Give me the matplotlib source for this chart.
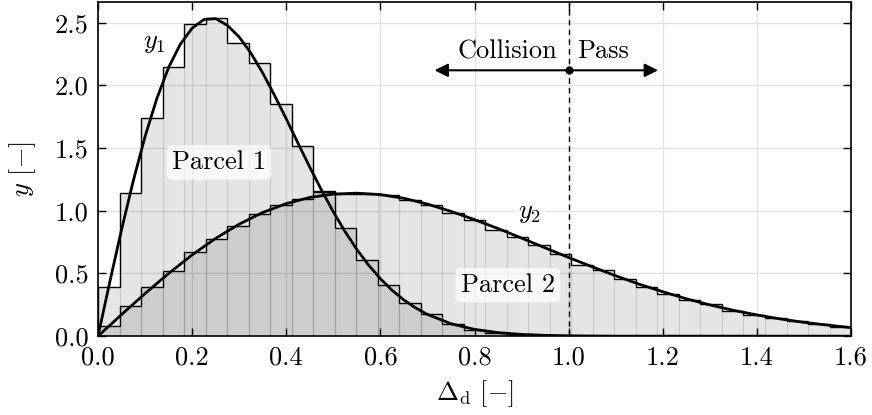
import numpy as np
import matplotlib
matplotlib.use("Agg")
import matplotlib.pyplot as plt

plt.rcParams['font.family'] = 'serif'
plt.rcParams['font.serif'] = ['cmr10', 'DejaVu Serif']
plt.rcParams['mathtext.fontset'] = 'cm'
plt.rcParams['axes.formatter.use_mathtext'] = True
plt.rcParams['font.size'] = 19

# histogram: 35 bins between 0 and 1.6
bin_edges = np.linspace(0, 1.6, 36)
hist1 = [0.39, 1.14, 1.74, 2.15, 2.49, 2.535, 2.335, 2.175, 1.85, 1.515,
         1.155, 0.865, 0.61, 0.405, 0.265, 0.18, 0.10, 0.048, 0.025, 0.012,
         0.006, 0.003, 0.001, 0, 0, 0, 0, 0, 0, 0,
         0, 0, 0, 0, 0]
hist2 = [0.08, 0.239, 0.388, 0.518, 0.671, 0.778, 0.876, 0.971, 1.048, 1.096,
         1.149, 1.136, 1.136, 1.123, 1.083, 1.048, 0.982, 0.927, 0.849, 0.791,
         0.725, 0.658, 0.571, 0.525, 0.454, 0.393, 0.337, 0.292, 0.255, 0.202,
         0.167, 0.141, 0.122, 0.093, 0.074]

# fitted curves
y1_x = np.concatenate([np.arange(0, 0.7001, 0.025), np.arange(0.75, 1.6001, 0.05)])
y1_val = [0, 0.432, 0.849, 1.240, 1.592, 1.895, 2.142, 2.329, 2.456, 2.525,
          2.532, 2.478, 2.385, 2.256, 2.098, 1.921, 1.732, 1.538, 1.347, 1.164,
          0.991, 0.833, 0.691, 0.566, 0.458, 0.365, 0.288, 0.225, 0.173,
          0.099, 0.054, 0.028, 0.014, 0.0065, 0.003, 0.001,
          0, 0, 0, 0, 0, 0, 0, 0, 0, 0, 0]
y2_x = np.arange(0, 1.6001, 0.05)
y2_val = [0, 0.172, 0.34, 0.50, 0.648, 0.780, 0.893, 0.986, 1.057, 1.106,
          1.133, 1.140, 1.129, 1.099, 1.053, 0.995, 0.929, 0.858, 0.782, 0.704,
          0.627, 0.553, 0.481, 0.414, 0.354, 0.298, 0.249, 0.206, 0.169, 0.137,
          0.110, 0.088, 0.068]

x_split = 1.0
y_arrow = 2.12

fig, ax = plt.subplots(figsize=(8.72, 4.15), dpi=100)
fig.subplots_adjust(left=0.1124, right=0.976, top=0.995, bottom=0.19)

w = np.diff(bin_edges)
for h in (hist1, hist2):
    ax.bar(bin_edges[:-1], h, width=w, align='edge', color=(0, 0, 0, 0.1),
           edgecolor=(0, 0, 0, 0.06), linewidth=0.8, zorder=2)
    ax.stairs(h, bin_edges, color='k', lw=1.0, zorder=3)

ax.plot(y1_x, y1_val, color='k', lw=2, zorder=4)
ax.plot(y2_x, y2_val, color='k', lw=2, zorder=4)

ax.axvline(x_split, color='k', lw=1, dashes=(4, 3), zorder=5)
ax.plot([x_split], [y_arrow], 'o', color='k', ms=5, zorder=6)
ax.annotate('', xy=(0.715, y_arrow), xytext=(x_split, y_arrow),
            arrowprops=dict(arrowstyle='-|>', color='k', lw=1.5, mutation_scale=20,
                            shrinkA=0, shrinkB=0), zorder=6)
ax.annotate('', xy=(1.19, y_arrow), xytext=(x_split, y_arrow),
            arrowprops=dict(arrowstyle='-|>', color='k', lw=1.5, mutation_scale=20,
                            shrinkA=0, shrinkB=0), zorder=6)
ax.text(0.87, 2.27, 'Collision', ha='center', va='center')
ax.text(1.072, 2.27, 'Pass', ha='center', va='center')

ax.text(0.12, 2.34, '$y_1$', ha='center', va='center')
ax.text(0.918, 0.98, '$y_2$', ha='center', va='center',
        bbox=dict(boxstyle='round,pad=0.15', fc='white', ec='none', alpha=0.8))
ax.text(0.257, 1.385, 'Parcel 1', ha='center', va='center', zorder=7,
        bbox=dict(boxstyle='round,pad=0.2', fc='white', ec='none', alpha=0.75))
ax.text(0.871, 0.406, 'Parcel 2', ha='center', va='center', zorder=7,
        bbox=dict(boxstyle='round,pad=0.2', fc='white', ec='none', alpha=0.75))

ax.set_xlim(0, 1.6)
ax.set_ylim(0, 2.664)
ax.set_xticks(np.arange(0, 1.61, 0.2))
ax.set_yticks(np.arange(0, 2.51, 0.5))
ax.xaxis.set_major_formatter(matplotlib.ticker.FormatStrFormatter('%.1f'))
ax.yaxis.set_major_formatter(matplotlib.ticker.FormatStrFormatter('%.1f'))
ax.tick_params(direction='in', top=True, right=True, length=6, width=1, pad=7)
ax.grid(True, color='#e3e3e3', lw=1, zorder=0)
ax.set_axisbelow(True)
for s in ax.spines.values():
    s.set_linewidth(1.2)

ax.set_xlabel(r'$\Delta_{\rm d}$ [$-$]', labelpad=6)
ax.set_ylabel(r'$y$ [$-$]', labelpad=12)

fig.savefig('out.png', dpi=100)
